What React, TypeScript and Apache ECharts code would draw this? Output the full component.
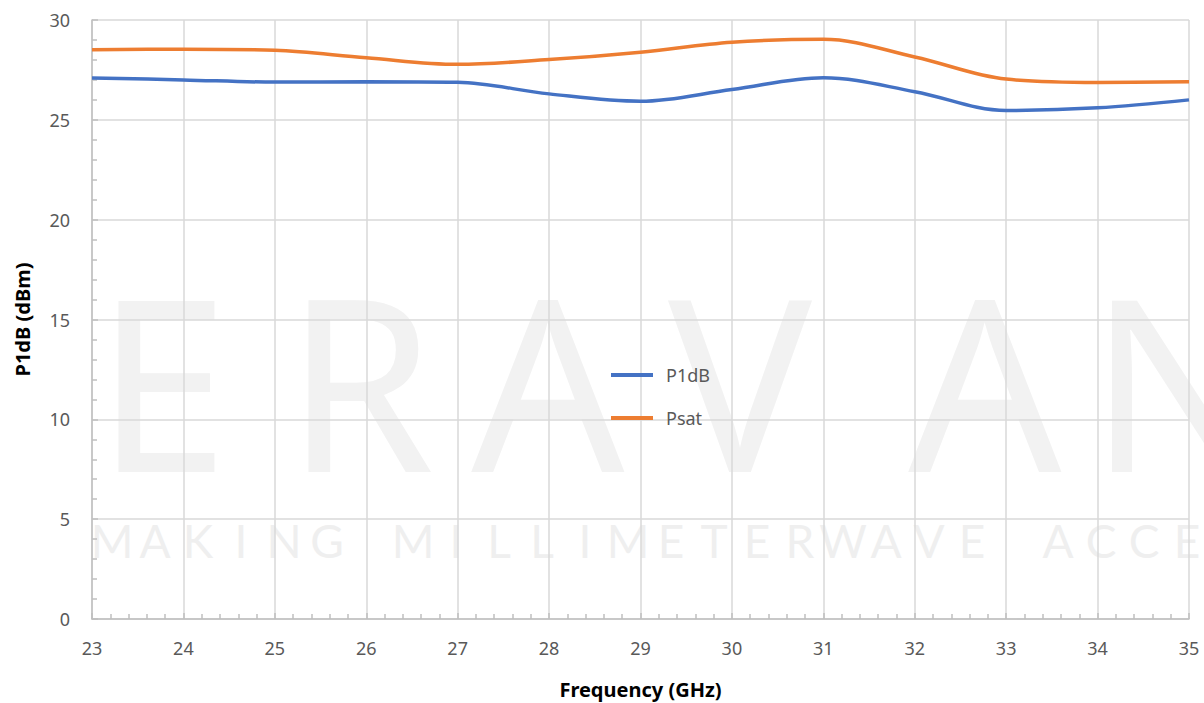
import React, { useEffect, useRef } from "react";
import * as echarts from "echarts";

const frequencies = [23, 24, 25, 26, 27, 28, 29, 30, 31, 32, 33, 34, 35];
const p1dbValues = [27.1, 27.0, 26.89, 26.91, 26.88, 26.3, 25.93, 26.52, 27.11, 26.41, 25.47, 25.6, 26.0];
const psatValues = [28.51, 28.54, 28.48, 28.11, 27.78, 28.02, 28.39, 28.89, 29.03, 28.15, 27.04, 26.87, 26.91];
const seriesNames = ["P1dB", "Psat"];
const xAxisTitle = "Frequency (GHz)";
const yAxisTitle = "P1dB (dBm)";
const watermarkBig = ["E", "R", "A", "V", "A", "N"];
const watermarkBigX = [162, 360, 548, 740, 985, 1180];
const watermarkSmall = "MAKING MILLIMETERWAVE ACCE";

export default function App() {
  const ref = useRef<HTMLDivElement>(null);
  useEffect(() => {
    if (!ref.current) return;
    const chart = echarts.init(ref.current, null, { renderer: "svg" });
    const font = "'Noto Sans', sans-serif";
    const graphics: any[] = [];
    watermarkBig.forEach((ch, i) => {
      graphics.push({
        type: "text",
        x: watermarkBigX[i],
        y: 378,
        z: -10,
        silent: true,
        style: {
          text: ch,
          fontSize: 240,
          fontFamily: "'Noto Sans', sans-serif",
          fill: "#f2f2f2",
          align: "center",
          verticalAlign: "middle",
        },
      });
    });
    watermarkSmall.split("").forEach((ch, i) => {
      if (ch === " ") return;
      graphics.push({
        type: "text",
        x: 112 + i * 43,
        y: 540,
        z: -10,
        silent: true,
        style: {
          text: ch,
          fontSize: 46,
          fontFamily: "Lato, sans-serif",
          fill: "#efefef",
          align: "center",
          verticalAlign: "middle",
        },
      });
    });
    chart.setOption({
      animation: false,
      backgroundColor: "#ffffff",
      grid: { left: 92, right: 15, top: 20, bottom: 84, containLabel: false, outerBoundsMode: "none" },
      graphic: graphics,
      legend: {
        orient: "vertical",
        left: 606,
        top: 361,
        itemWidth: 42,
        itemHeight: 4,
        itemGap: 25,
        icon: "rect",
        data: seriesNames,
        textStyle: { fontSize: 18, color: "#595959", fontFamily: font, padding: [0, 0, 0, 8] },
      },
      xAxis: {
        type: "value",
        min: 23,
        max: 35,
        interval: 1,
        name: xAxisTitle,
        nameLocation: "middle",
        nameGap: 60,
        nameTextStyle: { fontSize: 20, fontWeight: "bold", color: "#000000", fontFamily: font },
        axisLine: { show: true, lineStyle: { color: "#bfbfbf", width: 1.5 } },
        axisTick: { show: true, inside: true, length: 6, lineStyle: { color: "#bfbfbf", width: 1.5 } },
        minorTick: { show: true, splitNumber: 5, length: 5, lineStyle: { color: "#bfbfbf", width: 1.5 } },
        axisLabel: { fontSize: 18, color: "#595959", fontFamily: font, margin: 20 },
        splitLine: { show: true, lineStyle: { color: "#d9d9d9", width: 1.5 } },
      },
      yAxis: {
        type: "value",
        min: 0,
        max: 30,
        interval: 5,
        name: yAxisTitle,
        nameLocation: "middle",
        nameGap: 60,
        nameTextStyle: { fontSize: 20, fontWeight: "bold", color: "#000000", fontFamily: font },
        axisLine: { show: true, lineStyle: { color: "#bfbfbf", width: 1.5 } },
        axisTick: { show: true, inside: true, length: 6, lineStyle: { color: "#bfbfbf", width: 1.5 } },
        minorTick: { show: true, splitNumber: 5, length: 5, lineStyle: { color: "#bfbfbf", width: 1.5 } },
        axisLabel: { fontSize: 18, color: "#595959", fontFamily: font, margin: 22 },
        splitLine: { show: true, lineStyle: { color: "#d9d9d9", width: 1.5 } },
      },
      series: [
        {
          name: seriesNames[0],
          type: "line",
          smooth: 0.35,
          showSymbol: false,
          symbol: "none",
          color: "#4472C4",
          lineStyle: { width: 3.5, color: "#4472C4" },
          data: frequencies.map((f, i) => [f, p1dbValues[i]]),
        },
        {
          name: seriesNames[1],
          type: "line",
          smooth: 0.35,
          showSymbol: false,
          symbol: "none",
          color: "#ED7D31",
          lineStyle: { width: 3.5, color: "#ED7D31" },
          data: frequencies.map((f, i) => [f, psatValues[i]]),
        },
      ],
    });
    return () => chart.dispose();
  }, []);
  return (
    <div
      ref={ref}
      style={{ position: "absolute", left: 0, top: 0, width: 1204, height: 703 }}
    />
  );
}
